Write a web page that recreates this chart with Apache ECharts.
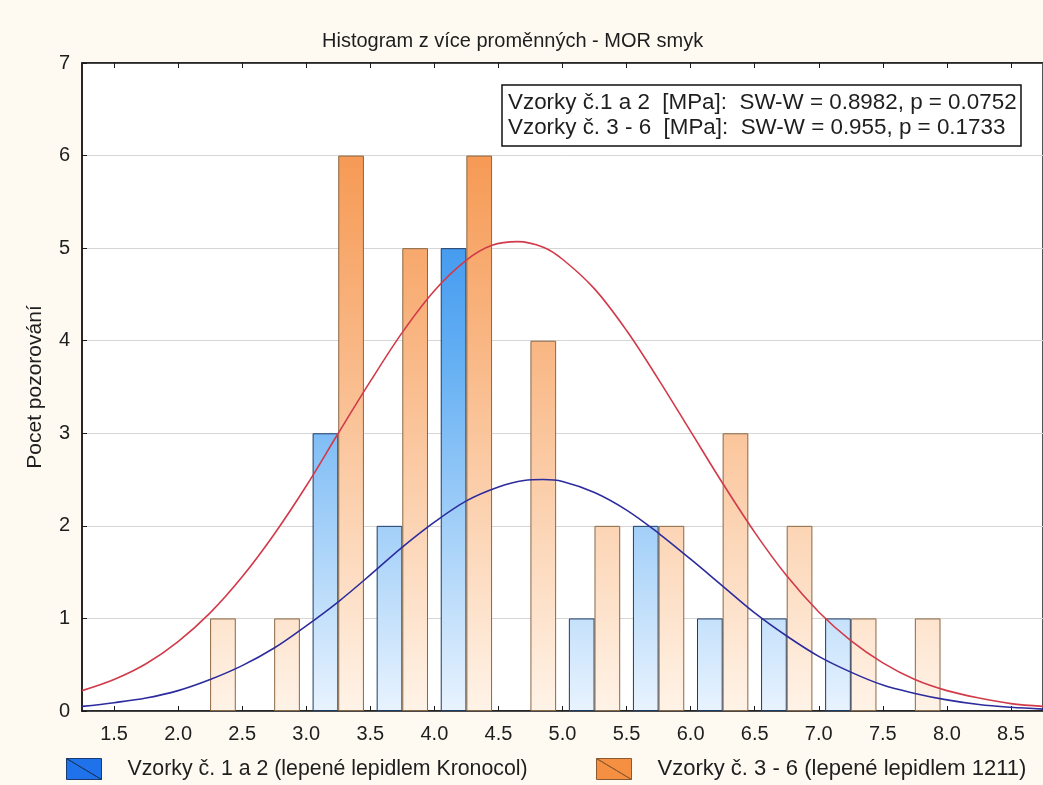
<!DOCTYPE html>
<html>
<head>
<meta charset="utf-8">
<script src="https://cdn.jsdelivr.net/npm/echarts@6/dist/echarts.min.js"></script>
<style>
html,body{margin:0;padding:0;background:#fefaf2;}
#c{width:1043px;height:785px;}
</style>
</head>
<body>
<div id="c"></div>
<script>
// ---- data ----
const titleText = 'Histogram z více proměnných - MOR smyk';
const yAxisName = 'Pocet pozorování';
const seriesNames = ['Vzorky č. 1 a 2 (lepené lepidlem Kronocol)', 'Vzorky č. 3 - 6 (lepené lepidlem 1211)'];
const statsLines = ['Vzorky č.1 a 2  [MPa]:  SW-W = 0.8982, p = 0.0752', 'Vzorky č. 3 - 6  [MPa]:  SW-W = 0.955, p = 0.1733'];
const binStarts = [2.0, 2.5, 3.0, 3.5, 4.0, 4.5, 5.0, 5.5, 6.0, 6.5, 7.0, 7.5];
const countsA = [0, 0, 3, 2, 5, 0, 1, 2, 1, 1, 1, 0];
const countsB = [1, 1, 6, 5, 6, 4, 2, 2, 3, 2, 1, 1];
const curveAX = [1.25, 1.5, 1.75, 2.0, 2.25, 2.5, 2.75, 3.0, 3.25, 3.5, 3.75, 4.0, 4.25, 4.5, 4.7, 4.85, 5.0, 5.25, 5.5, 5.75, 6.0, 6.25, 6.5, 6.75, 7.0, 7.25, 7.5, 7.75, 8.0, 8.25, 8.5, 8.75];
const curveA = [0.05, 0.09, 0.14, 0.22, 0.34, 0.49, 0.68, 0.92, 1.18, 1.47, 1.77, 2.04, 2.27, 2.42, 2.49, 2.50, 2.48, 2.36, 2.17, 1.92, 1.64, 1.35, 1.06, 0.81, 0.59, 0.42, 0.28, 0.19, 0.12, 0.07, 0.04, 0.02];
const curveBX = [1.25, 1.5, 1.75, 2.0, 2.25, 2.5, 2.75, 3.0, 3.25, 3.5, 3.75, 4.0, 4.25, 4.45, 4.65, 4.85, 5.0, 5.25, 5.5, 5.75, 6.0, 6.25, 6.5, 6.75, 7.0, 7.25, 7.5, 7.75, 8.0, 8.25, 8.5, 8.75];
const curveB = [0.22, 0.34, 0.51, 0.75, 1.06, 1.45, 1.91, 2.43, 3.00, 3.56, 4.09, 4.54, 4.87, 5.03, 5.07, 5.01, 4.88, 4.56, 4.11, 3.58, 3.02, 2.46, 1.93, 1.46, 1.07, 0.76, 0.52, 0.34, 0.22, 0.14, 0.08, 0.05];
const xTicks = [1.5, 2.0, 2.5, 3.0, 3.5, 4.0, 4.5, 5.0, 5.5, 6.0, 6.5, 7.0, 7.5, 8.0, 8.5];
const xMin = 1.25, xMax = 8.75, yMin = 0, yMax = 7;
const binWidth = 0.5;

// ---- build ----
const FONT = '"Liberation Sans", Arial, sans-serif';
const TXT = '#1e1e1e';
const chart = echarts.init(document.getElementById('c'), null, {renderer: 'canvas'});

function barData(counts, frac) {
  const out = [];
  counts.forEach((v, i) => { if (v > 0) out.push([binStarts[i] + binWidth * frac, v]); });
  return out;
}
const GT = 63, GB = 711;
const gradA = new echarts.graphic.LinearGradient(0, GT, 0, GB, [
  {offset: 0, color: '#157ceb'}, {offset: 0.45, color: '#62aef3'}, {offset: 1, color: '#e8f3fe'}], true);
const gradB = new echarts.graphic.LinearGradient(0, GT, 0, GB, [
  {offset: 0, color: '#f58c3e'}, {offset: 0.45, color: '#f9b886'}, {offset: 1, color: '#fff3e7'}], true);

const iconPath = 'path://M0,0 L35,0 L35,21 Z M0,0 L35,21 L0,21 Z';

const option = {
  backgroundColor: '#fefaf2',
  animation: false,
  textStyle: {fontFamily: FONT},
  title: [
    {text: titleText, left: 317, top: 26, textStyle: {fontFamily: FONT, fontSize: 20, fontWeight: 'normal', color: TXT}},
    {text: statsLines.join('\n'), left: 502, top: 85, padding: [5, 5, 6, 6], borderColor: '#111', borderWidth: 1.5, backgroundColor: '#ffffff',
     textStyle: {fontFamily: FONT, fontSize: 22.4, fontWeight: 'normal', color: TXT, lineHeight: 25}}
  ],
  legend: [
    {left: 61, top: 753, selectedMode: false, itemWidth: 35, itemHeight: 21, icon: iconPath,
     data: [{name: seriesNames[0], itemStyle: {color: '#1f72ea', borderColor: '#173b6e', borderWidth: 1}}],
     textStyle: {fontFamily: FONT, fontSize: 21.3, color: TXT, padding: [0, 0, 0, 21]}},
    {left: 591, top: 753, selectedMode: false, itemWidth: 35, itemHeight: 21, icon: iconPath,
     data: [{name: seriesNames[1], itemStyle: {color: '#f58f42', borderColor: '#8c5a30', borderWidth: 1}}],
     textStyle: {fontFamily: FONT, fontSize: 22, color: TXT, padding: [0, 0, 0, 21]}}
  ],
  grid: {left: 82, top: GT, right: -2, bottom: 785 - GB, show: true, backgroundColor: '#ffffff', borderColor: '#1a1a1a', borderWidth: 1.5, containLabel: false},
  xAxis: [
    {type: 'value', min: xMin, max: xMax, position: 'bottom',
     axisLine: {show: true, lineStyle: {color: '#1a1a1a', width: 1.5}},
     axisTick: {show: true, inside: true, length: 5, customValues: xTicks, lineStyle: {color: '#1a1a1a'}},
     axisLabel: {show: true, customValues: xTicks, margin: 13, fontFamily: FONT, fontSize: 20, color: TXT, formatter: v => Number(v).toFixed(1)},
     splitLine: {show: false}},
    {type: 'value', min: xMin, max: xMax, position: 'top',
     axisLine: {show: true, lineStyle: {color: '#1a1a1a', width: 1.5}},
     axisTick: {show: true, inside: true, length: 5, customValues: xTicks, lineStyle: {color: '#1a1a1a'}},
     axisLabel: {show: false}, splitLine: {show: false}}
  ],
  yAxis: [
    {type: 'value', min: yMin, max: yMax, interval: 1, name: yAxisName, nameLocation: 'middle', nameGap: 36,
     nameTextStyle: {fontFamily: FONT, fontSize: 21, color: TXT},
     axisLine: {show: true, lineStyle: {color: '#1a1a1a', width: 1.5}},
     axisTick: {show: true, inside: true, length: 5, lineStyle: {color: '#1a1a1a'}},
     axisLabel: {margin: 12, fontFamily: FONT, fontSize: 20, color: TXT},
     splitLine: {show: true, lineStyle: {color: '#d6d6d6', width: 1}}}
  ],
  series: [
    {name: seriesNames[0], type: 'bar', xAxisIndex: 0, barWidth: 25.7, barGap: '-100%',
     data: barData(countsA, 0.3),
     itemStyle: {color: gradA, borderColor: '#1d3c68', borderWidth: 1}},
    {name: seriesNames[1], type: 'bar', xAxisIndex: 0, barWidth: 25.7, barGap: '-100%',
     data: barData(countsB, 0.7),
     itemStyle: {color: gradB, borderColor: '#8a6744', borderWidth: 1}},
    {name: 'normal A', type: 'line', smooth: 0.35, showSymbol: false, z: 5,
     data: curveAX.map((x, i) => [x, curveA[i]]),
     lineStyle: {color: '#2c2c9e', width: 1.6}},
    {name: 'normal B', type: 'line', smooth: 0.35, showSymbol: false, z: 5,
     data: curveBX.map((x, i) => [x, curveB[i]]),
     lineStyle: {color: '#d23a4a', width: 1.6}}
  ]
};
chart.setOption(option);
</script>
</body>
</html>
